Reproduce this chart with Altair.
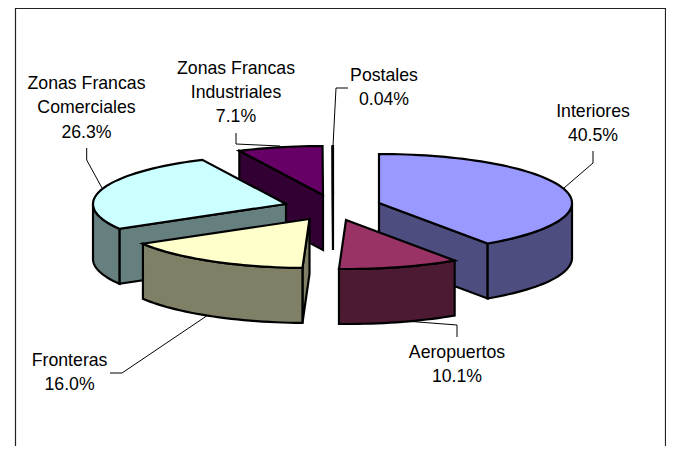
import math
import altair as alt
import pandas as pd

# --- chart values ---
categories = ["Interiores", "Aeropuertos", "Fronteras", "Zonas Francas Comerciales",
              "Zonas Francas Industriales", "Postales"]
shares = [40.5, 10.1, 16.0, 26.3, 7.1, 0.04]
value_labels = ["40.5%", "10.1%", "16.0%", "26.3%", "7.1%", "0.04%"]
top_colors = ["#9999FF", "#993366", "#FFFFCC", "#CCFFFF", "#660066", "#FF8080"]
side_colors = ["#4D4D80", "#4D1A33", "#808066", "#668080", "#330033", "#000000"]

# --- layout of the exploded 3-D pie ---
centres = [(379, 203), (346, 220), (309.5, 219), (286, 204), (323, 195), (333, 195)]
RX, RY, DEPTH = 193, 49, 55
draw_order = [4, 5, 0, 3, 2, 1]

label_lines = [["Interiores"], ["Aeropuertos"], ["Fronteras"],
               ["Zonas Francas", "Comerciales"], ["Zonas Francas", "Industriales"], ["Postales"]]
label_x = [593, 457, 69.6, 86.5, 236, 384]
label_base = [117, 358, 366, 89, 73.5, 81]
LINE_H = 24.3
leaders = [
    [(593, 151), (593, 163), (564, 188)],
    [(457, 337), (457, 325), (405, 321)],
    [(110, 373), (122, 373), (208, 315)],
    [(86.7, 148), (86.7, 160), (102, 188)],
    [(236, 133), (236, 144), (280, 146)],
    [(348, 88), (336, 88), (333, 146)],
]

XMIN, XMAX, YMIN, YMAX = 8, 666, 8, 446
x_enc = alt.X("px:Q", axis=None, scale=alt.Scale(domain=[XMIN, XMAX], nice=False, zero=False))
y_enc = alt.Y("py:Q", axis=None, scale=alt.Scale(domain=[YMAX, YMIN], nice=False, zero=False))


def rim(c, deg):
    t = math.radians(deg)
    return (c[0] + RX * math.sin(t), c[1] - RY * math.cos(t))


def poly(points, fill, stroke="#000000", width=2.2):
    closed = list(points) + [points[0], points[1]]
    df = pd.DataFrame({"px": [p[0] for p in closed], "py": [p[1] for p in closed],
                       "i": list(range(len(closed)))})
    return alt.Chart(df).mark_line(fill=fill, stroke=stroke, strokeWidth=width, clip=False).encode(
        x=x_enc, y=y_enc, order=alt.Order("i:Q"))


def path(points, width=1.0, color="#000000"):
    df = pd.DataFrame({"px": [p[0] for p in points], "py": [p[1] for p in points],
                       "i": list(range(len(points)))})
    return alt.Chart(df).mark_line(stroke=color, strokeWidth=width, clip=False).encode(
        x=x_enc, y=y_enc, order=alt.Order("i:Q"))


def down(p):
    return (p[0], p[1] + DEPTH)


def arc_points(c, a, b):
    n = max(2, int(abs(b - a) / 2) + 1)
    return [rim(c, a + (b - a) * k / n) for k in range(n + 1)]


total = sum(shares)
starts, acc = [], 0.0
for s in shares:
    starts.append(acc / total * 360)
    acc += s

layers = []
# frame
layers.append(path([(15.5, YMAX), (15.5, 8.5), (665.5, 8.5), (665.5, YMAX)], 1.2, "#222222"))
# leader lines
for pts in leaders:
    layers.append(path(pts, 1.0))

# slices
for idx in draw_order:
    c = centres[idx]
    a, b = starts[idx], starts[idx] + shares[idx] / total * 360
    if b < 180:
        e = rim(c, b)
        layers.append(poly([c, e, down(e), down(c)], side_colors[idx]))
    if a > 180:
        e = rim(c, a)
        layers.append(poly([c, e, down(e), down(c)], side_colors[idx]))
    lo, hi = max(a, 90), min(b, 270)
    if lo < hi:
        ring = arc_points(c, lo, hi)
        layers.append(poly(ring + [down(p) for p in reversed(ring)], side_colors[idx]))
    layers.append(poly([c] + arc_points(c, a, b), top_colors[idx]))

# labels
rows = []
for i, lines in enumerate(label_lines):
    for k, t in enumerate(lines + [value_labels[i]]):
        rows.append({"px": label_x[i], "py": label_base[i] + k * LINE_H, "t": t})
labels = alt.Chart(pd.DataFrame(rows)).mark_text(
    font="Liberation Sans", fontSize=17.7, color="#000000", align="center", baseline="alphabetic"
).encode(x=x_enc, y=y_enc, text="t:N")
layers.append(labels)

chart = alt.layer(*layers).properties(
    width=XMAX - XMIN, height=YMAX - YMIN, padding=0,
    autosize=alt.AutoSizeParams(type="none"), background="#FFFFFF"
).configure_view(stroke=None)

chart.save("out.html", embed_options={"renderer": "svg", "actions": False})
